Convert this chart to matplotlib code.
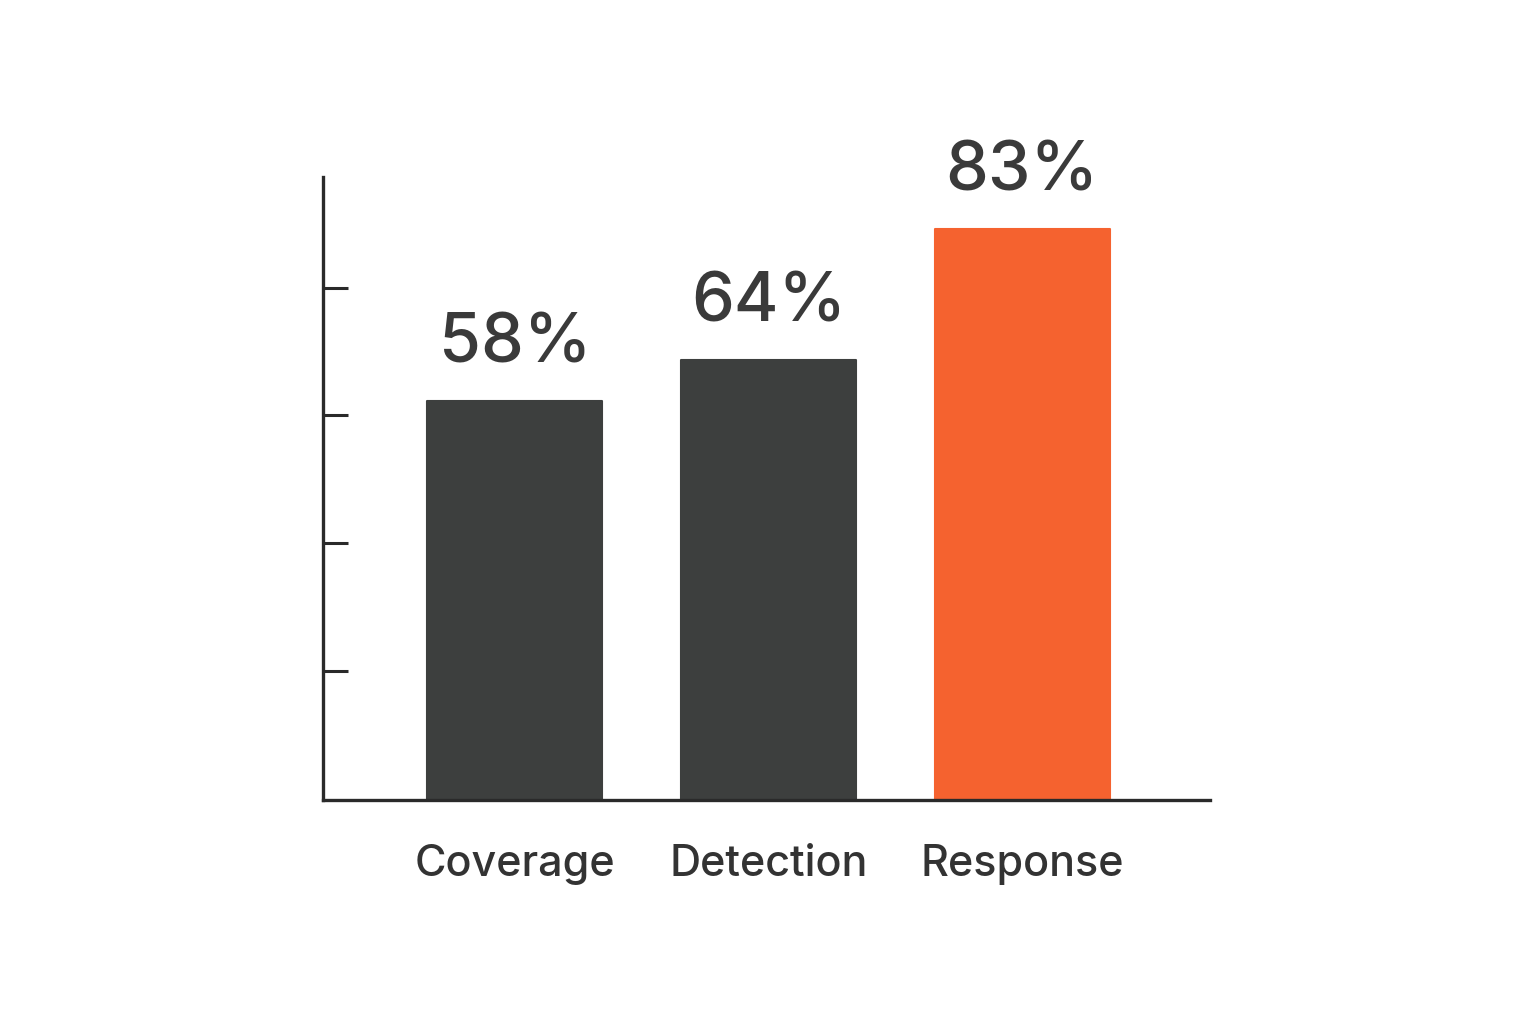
import matplotlib.pyplot as plt

categories = ["Coverage", "Detection", "Response"]
values = [58, 64, 83]
bar_colors = ["#3d3f3e", "#3d3f3e", "#f5622f"]

plt.rcParams["font.family"] = ["Inter", "DejaVu Sans"]

fig = plt.figure(figsize=(15.36, 10.24), dpi=100)
ax = fig.add_axes([0.2103, 0.21875, 0.5775, 0.6084])

x = range(len(categories))
ax.bar(x, values, width=0.69, color=bar_colors, edgecolor=bar_colors,
       linewidth=1.5, joinstyle="round", zorder=2)

for xi, v in zip(x, values):
    ax.text(xi, v + 3.6, f"{v}%", ha="center", va="bottom",
            fontsize=49, fontweight="medium", color="#3a3a3a")

ax.set_xlim(-0.756, 2.74)
ax.set_ylim(0, 90.6)

ax.set_xticks(list(x))
ax.set_xticklabels(categories, fontsize=31, fontweight="medium", color="#333333")
ax.tick_params(axis="x", length=0, pad=32)

ax.set_yticks([18.8, 37.4, 56.0, 74.5])
ax.set_yticklabels([])
ax.tick_params(axis="y", direction="in", length=18, width=2.2, color="#2a2a2a")

for side in ["top", "right"]:
    ax.spines[side].set_visible(False)
for side in ["left", "bottom"]:
    ax.spines[side].set_linewidth(2.4)
    ax.spines[side].set_color("#2a2a2a")

fig.savefig("out.png", dpi=100, facecolor="white")
